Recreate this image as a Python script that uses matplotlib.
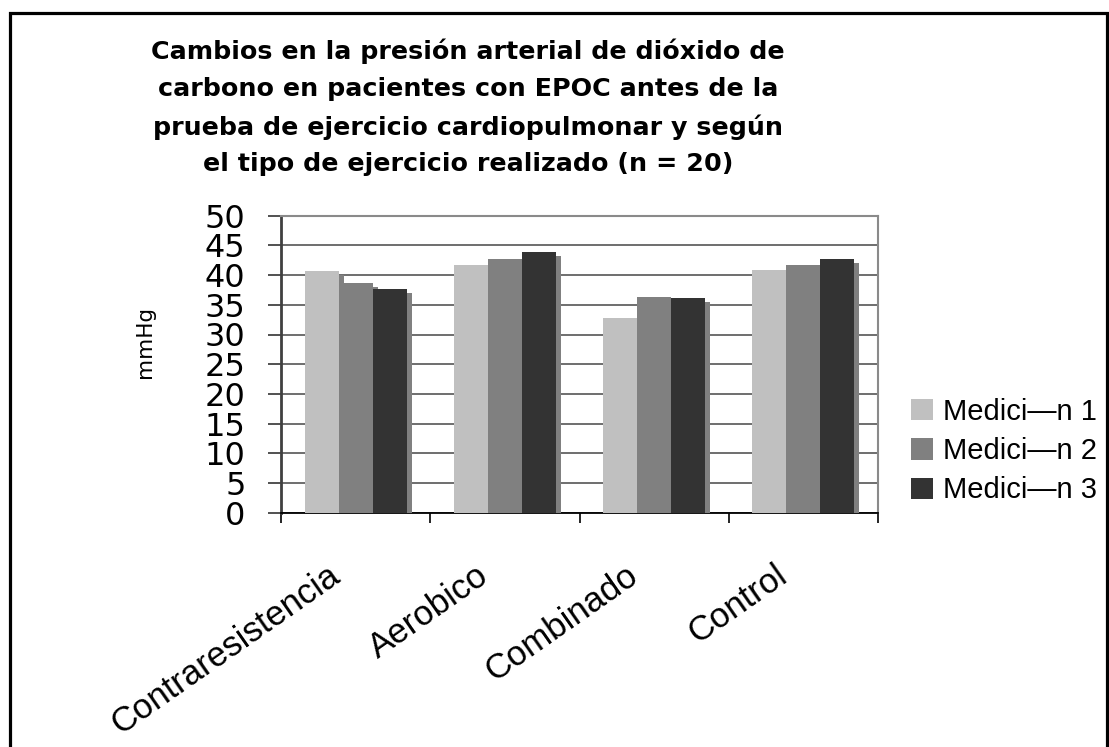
import matplotlib
matplotlib.use("Agg")
import matplotlib.pyplot as plt
import matplotlib.patheffects as pe
import matplotlib.transforms as mtransforms
from matplotlib.patches import Rectangle, Patch
import numpy as np

categories = ["Contraresistencia", "Aerobico", "Combinado", "Control"]
series_names = ["Medici\u2014n 1", "Medici\u2014n 2", "Medici\u2014n 3"]
med1 = [40.7, 41.7, 32.8, 40.8]
med2 = [38.7, 42.7, 36.3, 41.7]
med3 = [37.7, 43.9, 36.1, 42.7]
yticks = [0, 5, 10, 15, 20, 25, 30, 35, 40, 45, 50]
title = ("Cambios en la presi\u00f3n arterial de di\u00f3xido de\n"
         "carbono en pacientes con EPOC antes de la\n"
         "prueba de ejercicio cardiopulmonar y seg\u00fan\n"
         "el tipo de ejercicio realizado (n = 20)")
ylabel = "mmHg"

colors = ["#c0c0c0", "#808080", "#333333"]

W, H = 1109, 747
fig = plt.figure(figsize=(W / 100, H / 100), dpi=100)
fig.patch.set_facecolor("white")

ax = fig.add_axes([281 / W, 1 - 512.7 / H, (878 - 281) / W, (512.7 - 215.7) / H])
ax.set_facecolor("white")

x = np.arange(len(categories))
bw = 0.2277
shadow = [pe.SimplePatchShadow(offset=(3.6, -2.9), shadow_rgbFace="#808080", alpha=1.0),
          pe.Normal()]
for i, (vals, c, name) in enumerate(zip([med1, med2, med3], colors, series_names)):
    bars = ax.bar(x + (i - 1) * bw, vals, width=bw, color=c, linewidth=0,
                  label=name, zorder=3)
    for b in bars:
        b.set_path_effects(shadow)

ax.set_xlim(-0.5, len(categories) - 0.5)
ax.set_ylim(0, 50)
ax.set_yticks(yticks)
ax.set_yticklabels([str(t) for t in yticks], fontsize=23, family="DejaVu Sans")
ax.yaxis.grid(True, color="#555555", linewidth=1.2, zorder=0)
ax.set_axisbelow(True)
ax.tick_params(axis="y", direction="out", length=9.5, width=1.2, color="#333333", pad=16)

# category boundaries as major ticks, labels on minor ticks
ax.set_xticks(np.arange(-0.5, len(categories), 1.0))
ax.set_xticklabels([])
ax.tick_params(axis="x", which="major", direction="out", length=7.5, width=1.2, color="black")
ax.set_xticks(x, minor=True)
ax.set_xticklabels(categories, minor=True, rotation=35, ha="right", va="top",
                   rotation_mode="anchor", fontsize=25, family="Liberation Sans")
ax.tick_params(axis="x", which="minor", length=0, pad=33)
offset = mtransforms.ScaledTranslation(-29 / 100, 0, fig.dpi_scale_trans)
for lab in ax.get_xticklabels(minor=True):
    lab.set_transform(lab.get_transform() + offset)

ax.spines["left"].set_color("#404040")
ax.spines["left"].set_linewidth(2)
ax.spines["bottom"].set_color("black")
ax.spines["bottom"].set_linewidth(1.3)
ax.spines["top"].set_color("#8a8a8a")
ax.spines["top"].set_linewidth(1.5)
ax.spines["right"].set_color("#8a8a8a")
ax.spines["right"].set_linewidth(1.5)

fig.text(145 / W, 1 - 342 / H, ylabel, rotation=90, ha="center", va="center",
         fontsize=15.5, family="DejaVu Sans")

fig.text(468 / W, 1 - 107.5 / H, title, ha="center", va="center", fontsize=18.3,
         fontweight="bold", family="DejaVu Sans", linespacing=1.66)

handles = [Patch(facecolor=c, edgecolor="none") for c in colors]
leg = fig.legend(handles, series_names, loc="center left",
                 bbox_to_anchor=(911 / W, 1 - 451 / H),
                 frameon=False, borderaxespad=0, borderpad=0,
                 handlelength=0.75, handleheight=0.75, handletextpad=0.34,
                 labelspacing=0.39, prop={"family": "Liberation Sans", "size": 21})

fig.add_artist(Rectangle((9.5 / W, -0.05), (1107 - 9.5) / W, 1.05 - 12.5 / H,
                         transform=fig.transFigure, fill=False, edgecolor="black",
                         linewidth=2.3, zorder=10))

fig.savefig("out.png", dpi=100, facecolor="white")
